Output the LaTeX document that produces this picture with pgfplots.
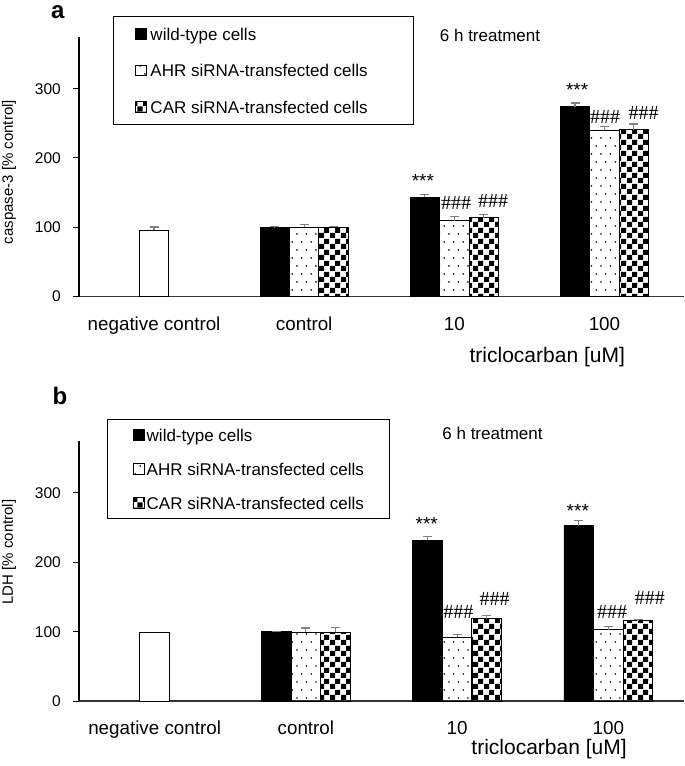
\documentclass[border=0pt]{standalone}
\usepackage{fontspec}
\setmainfont{Liberation Sans}
\newfontfamily\hashfont{Liberation Serif}
\usepackage{pgfplots}
\pgfplotsset{compat=1.18}
\usetikzlibrary{patterns}

\pgfdeclarepatternformonly{sparsedots}{\pgfqpoint{-1pt}{-1pt}}{\pgfqpoint{10.5pt}{17pt}}{\pgfqpoint{9.5pt}{16pt}}{%
 \pgfpathcircle{\pgfqpoint{2.4pt}{4pt}}{0.9pt}%
 \pgfpathcircle{\pgfqpoint{7.15pt}{12pt}}{0.9pt}%
 \pgfusepath{fill}}
\pgfdeclarepatternformonly{checker}{\pgfqpoint{0pt}{0pt}}{\pgfqpoint{11pt}{11pt}}{\pgfqpoint{11pt}{11pt}}{%
 \pgfpathrectangle{\pgfqpoint{0pt}{0pt}}{\pgfqpoint{5.5pt}{5.5pt}}%
 \pgfpathrectangle{\pgfqpoint{5.5pt}{5.5pt}}{\pgfqpoint{5.5pt}{5.5pt}}%
 \pgfusepath{fill}}

\newcommand\astf{\fontsize{19}{22}\selectfont}
\newcommand\hashf{\hashfont\fontsize{20}{24}\selectfont}
\newcommand\legf{\fontsize{17}{20}\selectfont}

\pgfplotsset{
 base/.style={
  scale only axis, width=605pt,
  ymin=0, ymax=375, xmin=-0.5,
  axis x line=bottom, axis y line=left,
  x axis line style={-, draw=black!80, line width=1.6pt},
  y axis line style={-, draw=black, line width=1.2pt},
  ytick={0,100,200,300}, xtick={0,1,2,3},
  xticklabels={negative control,control,10,100},
  tick align=outside, major tick length=6pt,
  xtick style={draw=none},
  ytick style={draw=black, line width=1pt},
  yticklabel style={font=\fontsize{15.5}{18}\selectfont, anchor=east, inner sep=0pt, xshift=-12pt},
  /pgf/number format/assume math mode=true,
  ybar, bar width=0.196, clip=false,
  legend cell align=left,
 },
 lg/.style={legend image code/.code={\draw[##1, line width=0.8pt] (0pt,-5.35pt) rectangle (10.7pt,5.35pt);}},
 wt/.style={fill=black, draw=black, line width=0.8pt, bar shift=-0.196, lg},
 ahr/.style={pattern=sparsedots, draw=black, line width=0.8pt, bar shift=0, lg},
 car/.style={pattern=checker, draw=black, line width=1pt, bar shift=0.196, lg},
 neg/.style={fill=white, draw=black, line width=1pt, bar shift=0, forget plot},
 eb/.style={error bars/.cd, y dir=plus, y explicit, error mark=|,
   error bar style={draw=gray, line width=1.2pt},
   error mark options={draw=gray, mark size=4.5pt, line width=1.2pt}},
}

\begin{document}
\begin{tikzpicture}
\useasboundingbox (0,0) rectangle (685pt,766pt);

% ---------- panel a ----------
\begin{axis}[base, at={(79pt,469.4pt)}, anchor=south west, height=259.9pt, xmax=3.53,
  xticklabel style={font=\fontsize{18.8}{22}\selectfont, anchor=base, yshift=-28.4pt},
  ylabel={caspase-3 [\% control]},
  ylabel style={font=\fontsize{15}{18}\selectfont, at={(axis description cs:-0.1157,0.479)}, anchor=center},
  xlabel={triclocarban [uM]},
  xlabel style={font=\fontsize{21}{25}\selectfont, at={(axis description cs:0.774,-0.2324)}, anchor=center},
  legend style={at={(axis description cs:0.0557,1.0796)}, anchor=north west, draw=black, line width=1pt,
    inner xsep=22.3pt, inner ysep=9.5pt, row sep=21pt, column sep=3.5pt, nodes={inner sep=0pt}, font=\legf},
]
\addplot[neg, eb] coordinates {(0,96) +- (0,4.3)};
\addplot[wt, eb] coordinates {(1,100) +- (0,0.6) (2,143) +- (0,4) (3,274) +- (0,5.4)};
\addplot[ahr, eb] coordinates {(1,100) +- (0,3.6) (2,109.5) +- (0,6.2) (3,240.5) +- (0,5.2)};
\addplot[car, eb] coordinates {(1,100) +- (0,1.7) (2,114) +- (0,4.9) (3,240.5) +- (0,8.6)};
\legend{\makebox[240.5pt][l]{\strut wild-type cells},\strut AHR siRNA-transfected cells,\strut CAR siRNA-transfected cells}
\node[font=\astf, inner sep=0pt, yshift=-4.2pt] at (axis cs:1.7905,172.3) {***};
\node[font=\hashf, inner sep=0pt] at (axis cs:2.0117,135.5) {\#\#\#};
\node[font=\hashf, inner sep=0pt] at (axis cs:2.258,138) {\#\#\#};
\node[font=\astf, inner sep=0pt, yshift=-4.2pt] at (axis cs:2.818,304.6) {***};
\node[font=\hashf, inner sep=0pt] at (axis cs:3.004,259.2) {\#\#\#};
\node[font=\hashf, inner sep=0pt] at (axis cs:3.261,264.9) {\#\#\#};
\end{axis}

% ---------- panel b ----------
\begin{axis}[base, at={(79pt,65pt)}, anchor=south west, height=260pt, xmax=3.5,
  xticklabel style={font=\fontsize{18.8}{22}\selectfont, anchor=base, yshift=-27.3pt},
  ylabel={LDH [\% control]},
  ylabel style={font=\fontsize{15}{18}\selectfont, at={(axis description cs:-0.1157,0.573)}, anchor=center},
  xlabel={triclocarban [uM]},
  xlabel style={font=\fontsize{21}{25}\selectfont, at={(axis description cs:0.777,-0.1865)}, anchor=center},
  legend style={at={(axis description cs:0.0468,1.0835)}, anchor=north west, draw=black, line width=1pt,
    inner xsep=25pt, inner ysep=7.4pt, row sep=18.5pt, column sep=2.4pt, nodes={inner sep=0pt}, font=\legf},
]
\addplot[neg] coordinates {(0,98.6)};
\addplot[wt, eb] coordinates {(1,100) +- (0,0.6) (2,231.8) +- (0,5.8) (3,253) +- (0,7)};
\addplot[ahr, eb] coordinates {(1,99.5) +- (0,5.8) (2,92.3) +- (0,3.7) (3,103) +- (0,4.7)};
\addplot[car, eb] coordinates {(1,99.5) +- (0,6.2) (2,118.3) +- (0,4.7) (3,115.4) +- (0,1.9)};
\legend{\makebox[217.3pt][l]{\strut wild-type cells},\strut AHR siRNA-transfected cells,\strut CAR siRNA-transfected cells}
\node[font=\astf, inner sep=0pt, yshift=-4.2pt] at (axis cs:1.799,261.6) {***};
\node[font=\hashf, inner sep=0pt] at (axis cs:2.008,128.9) {\#\#\#};
\node[font=\hashf, inner sep=0pt] at (axis cs:2.248,146.8) {\#\#\#};
\node[font=\astf, inner sep=0pt, yshift=-4.2pt] at (axis cs:2.798,280.4) {***};
\node[font=\hashf, inner sep=0pt] at (axis cs:3.024,128.9) {\#\#\#};
\node[font=\hashf, inner sep=0pt] at (axis cs:3.275,149.1) {\#\#\#};
\end{axis}

% panel letters and titles
\node[font=\bfseries\fontsize{24}{28}\selectfont, anchor=base west, inner sep=0pt, text height=13pt, text depth=0pt] at (51pt,747pt) {a};
\node[font=\bfseries\fontsize{24}{28}\selectfont, anchor=base west, inner sep=0pt] at (52.5pt,361pt) {b};
\node[font=\legf, inner sep=0pt] at (490pt,731pt) {6 h treatment};
\node[font=\legf, inner sep=0pt] at (492.5pt,333pt) {6 h treatment};
\end{tikzpicture}
\end{document}
